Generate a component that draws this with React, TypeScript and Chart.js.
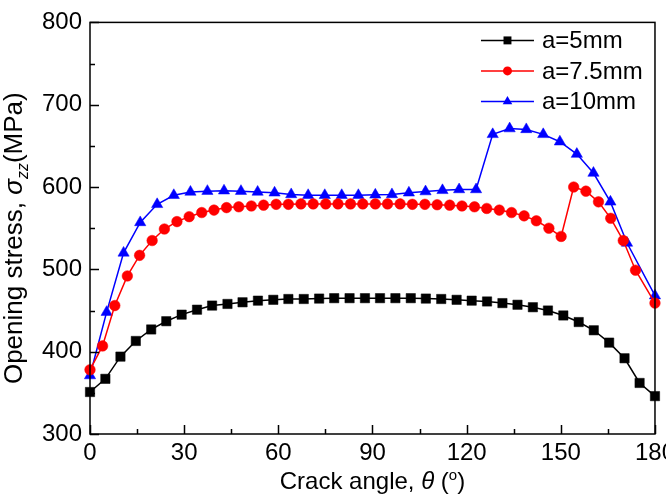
import React, { useEffect, useRef } from 'react';
import { Chart, registerables } from 'chart.js';

Chart.register(...registerables);

// Crack angle (deg) sampled for each crack depth
const angles5 = [0, 4.9, 9.7, 14.6, 19.5, 24.3, 29.2, 34.1, 38.9, 43.8, 48.6, 53.5, 58.4, 63.2, 68.1, 73.0, 77.8, 82.7, 87.6, 92.4, 97.3, 102.2, 107.0, 111.9, 116.8, 121.6, 126.5, 131.4, 136.2, 141.1, 145.9, 150.8, 155.7, 160.5, 165.4, 170.3, 175.1, 180];
const stress5 = [351, 367, 394, 413, 427, 437, 445, 451, 456, 458, 460, 462, 463, 464, 464, 464.5, 465, 465, 465, 465, 465, 465, 464.5, 464, 463, 462, 461, 459, 457, 454, 450, 444, 436, 426, 411, 392, 362, 346];

const angles75 = [0, 4.0, 7.9, 11.9, 15.8, 19.8, 23.7, 27.7, 31.6, 35.6, 39.5, 43.5, 47.4, 51.4, 55.3, 59.3, 63.2, 67.2, 71.1, 75.1, 79.0, 83.0, 86.9, 90.9, 94.8, 98.8, 102.7, 106.7, 110.6, 114.6, 118.5, 122.5, 126.4, 130.4, 134.3, 138.3, 142.2, 146.2, 150.1, 154.1, 158.0, 162.0, 165.9, 169.9, 173.8, 180];
const stress75 = [378, 407, 456, 492, 517, 535, 549, 558, 564, 569, 572, 575, 576, 577, 578, 579, 579, 579.5, 579.5, 579.5, 579.5, 579.5, 579.5, 579.5, 579.5, 579.5, 579, 579, 578.5, 578, 577, 576, 574, 572, 569, 565, 559, 550, 540, 600, 595, 582, 562, 535, 499, 459];

const angles10 = [0, 5.3, 10.7, 16.0, 21.4, 26.7, 32.0, 37.4, 42.7, 48.1, 53.4, 58.8, 64.1, 69.5, 74.8, 80.2, 85.5, 90.9, 96.2, 101.6, 106.9, 112.3, 117.6, 123.0, 128.3, 133.7, 139.0, 144.4, 149.7, 155.1, 160.4, 165.8, 171.1, 180];
const stress10 = [371, 448, 520, 557, 579, 590, 594, 595, 595.5, 595, 594, 593, 591, 590, 590, 590, 590, 590.5, 591, 593, 594.5, 596, 597, 597, 664, 671, 670, 664, 655, 640, 617, 582, 532, 468];

const seriesLabels = ['a=5mm', 'a=7.5mm', 'a=10mm'];
const seriesColors = ['#000000', '#ff0000', '#0000ff'];
const seriesMarkers = ['rect', 'circle', 'triangle'];

const xTicks = { min: 0, max: 180, step: 30, minor: 15 };
const yTicks = { min: 300, max: 800, step: 100, minor: 50 };

const FONT = '"Liberation Sans", Arial, Helvetica, sans-serif';
const TICK_SIZE = 24;
const X_TITLE_SIZE = 24;
const Y_TITLE_SIZE = 26;
const LEGEND_SIZE = 24;

const pair = (xs: number[], ys: number[]) => xs.map((x, i) => ({ x, y: ys[i] }));

type Seg = { t: string; italic?: boolean; shift?: number; scale?: number };

function drawRich(ctx: CanvasRenderingContext2D, segs: Seg[], size: number, cx: number, cy: number) {
  const fontFor = (s: Seg) => `${s.italic ? 'italic ' : ''}${Math.round(size * (s.scale ?? 1))}px ${FONT}`;
  let total = 0;
  const widths = segs.map((s) => {
    ctx.font = fontFor(s);
    const w = ctx.measureText(s.t).width;
    total += w;
    return w;
  });
  let x = cx - total / 2;
  ctx.textBaseline = 'alphabetic';
  ctx.textAlign = 'left';
  segs.forEach((s, i) => {
    ctx.font = fontFor(s);
    ctx.fillText(s.t, x, cy + (s.shift ?? 0) * size);
    x += widths[i];
  });
}

function drawMarker(ctx: CanvasRenderingContext2D, style: string, x: number, y: number, r: number) {
  ctx.beginPath();
  if (style === 'rect') {
    const h = r * Math.SQRT1_2;
    ctx.rect(x - h, y - h, 2 * h, 2 * h);
  } else if (style === 'circle') {
    ctx.arc(x, y, r, 0, Math.PI * 2);
  } else {
    for (let k = 0; k < 3; k++) {
      const a = (k * 2 * Math.PI) / 3;
      const px = x + Math.sin(a) * r;
      const py = y - Math.cos(a) * r;
      if (k === 0) ctx.moveTo(px, py);
      else ctx.lineTo(px, py);
    }
    ctx.closePath();
  }
  ctx.fill();
}

// Box frame with inward major/minor ticks on the bottom and left axes
const framePlugin = {
  id: 'frameTicks',
  afterDatasetsDraw(chart: any) {
    const { ctx, chartArea: a, scales } = chart;
    ctx.save();
    ctx.strokeStyle = '#000';
    ctx.lineWidth = 1.5;
    ctx.strokeRect(a.left, a.top, a.right - a.left, a.bottom - a.top);
    ctx.beginPath();
    for (let v = xTicks.min; v <= xTicks.max; v += xTicks.minor) {
      const px = Math.round(scales.x.getPixelForValue(v)) + 0.5;
      const len = v % xTicks.step === 0 ? 9 : 5;
      ctx.moveTo(px, a.bottom);
      ctx.lineTo(px, a.bottom - len);
    }
    for (let v = yTicks.min; v <= yTicks.max; v += yTicks.minor) {
      const py = Math.round(scales.y.getPixelForValue(v)) + 0.5;
      const len = v % yTicks.step === 0 ? 9 : 5;
      ctx.moveTo(a.left, py);
      ctx.lineTo(a.left + len, py);
    }
    ctx.stroke();
    ctx.restore();
  },
};

// Axis titles with italic symbols, sub- and superscripts
const titlePlugin = {
  id: 'richTitles',
  afterDraw(chart: any) {
    const { ctx, chartArea: a } = chart;
    ctx.save();
    ctx.fillStyle = '#000';
    const xSegs: Seg[] = [
      { t: 'Crack angle, ' },
      { t: 'θ', italic: true },
      { t: ' (' },
      { t: 'o', scale: 0.62, shift: -0.38 },
      { t: ')' },
    ];
    drawRich(ctx, xSegs, X_TITLE_SIZE, (a.left + a.right) / 2, 489);
    ctx.translate(22, (a.top + a.bottom) / 2 + 10);
    ctx.rotate(-Math.PI / 2);
    const ySegs: Seg[] = [
      { t: 'Opening stress, ' },
      { t: 'σ', italic: true },
      { t: 'zz', italic: true, scale: 0.62, shift: 0.22 },
      { t: '(MPa)' },
    ];
    drawRich(ctx, ySegs, Y_TITLE_SIZE, 0, 0);
    ctx.restore();
  },
};

// Legend: short line with the series marker, then the label
const legendPlugin = {
  id: 'lineLegend',
  afterDraw(chart: any) {
    const { ctx, chartArea: a } = chart;
    ctx.save();
    chart.data.datasets.forEach((ds: any, i: number) => {
      const y = a.top + 18 + i * 30.5;
      const x0 = a.right - 174;
      const x1 = a.right - 121;
      ctx.strokeStyle = ds.borderColor;
      ctx.lineWidth = 1.5;
      ctx.beginPath();
      ctx.moveTo(x0, y);
      ctx.lineTo(x1, y);
      ctx.stroke();
      ctx.fillStyle = ds.borderColor;
      drawMarker(ctx, ds.pointStyle, (x0 + x1) / 2, y, ds.pointRadius * 0.85);
      ctx.fillStyle = '#000';
      ctx.font = `${LEGEND_SIZE}px ${FONT}`;
      ctx.textAlign = 'left';
      ctx.textBaseline = 'middle';
      ctx.fillText(ds.label, a.right - 113, y + 1);
    });
    ctx.restore();
  },
};

export default function App() {
  const ref = useRef<HTMLCanvasElement>(null);

  useEffect(() => {
    const series = [pair(angles5, stress5), pair(angles75, stress75), pair(angles10, stress10)];
    const radii = [6.6, 5.3, 6.5];
    const chart = new Chart(ref.current as HTMLCanvasElement, {
      type: 'line',
      data: {
        datasets: series.map((data, i) => ({
          label: seriesLabels[i],
          data,
          borderColor: seriesColors[i],
          backgroundColor: seriesColors[i],
          pointBackgroundColor: seriesColors[i],
          pointBorderColor: seriesColors[i],
          pointStyle: seriesMarkers[i] as any,
          pointRadius: radii[i],
          pointBorderWidth: 0.5,
          borderWidth: 1.5,
          tension: 0,
          clip: false as any,
        })),
      },
      options: {
        responsive: false,
        animation: false,
        layout: { padding: { top: 18, right: 21, left: 0, bottom: 0 } },
        plugins: {
          legend: { display: false },
          tooltip: { enabled: false },
        },
        scales: {
          x: {
            type: 'linear',
            min: xTicks.min,
            max: xTicks.max,
            ticks: {
              stepSize: xTicks.step,
              color: '#000',
              padding: 5,
              maxRotation: 0,
              font: { family: FONT, size: TICK_SIZE },
            },
            grid: { display: false, drawTicks: false },
            border: { display: false },
            afterFit: (s: any) => {
              s.height = 62;
            },
          },
          y: {
            type: 'linear',
            min: yTicks.min,
            max: yTicks.max,
            ticks: {
              stepSize: yTicks.step,
              color: '#000',
              padding: 8,
              font: { family: FONT, size: TICK_SIZE },
            },
            grid: { display: false, drawTicks: false },
            border: { display: false },
            afterFit: (s: any) => {
              s.width = 90;
            },
          },
        },
      },
      plugins: [framePlugin, titlePlugin, legendPlugin],
    });
    return () => chart.destroy();
  }, []);

  return (
    <div style={{ position: 'fixed', left: 0, top: 0, width: 666, height: 496, overflow: 'hidden', background: '#fff' }}>
      <canvas ref={ref} width={680} height={496} style={{ display: 'block', width: 680, height: 496 }} />
    </div>
  );
}
